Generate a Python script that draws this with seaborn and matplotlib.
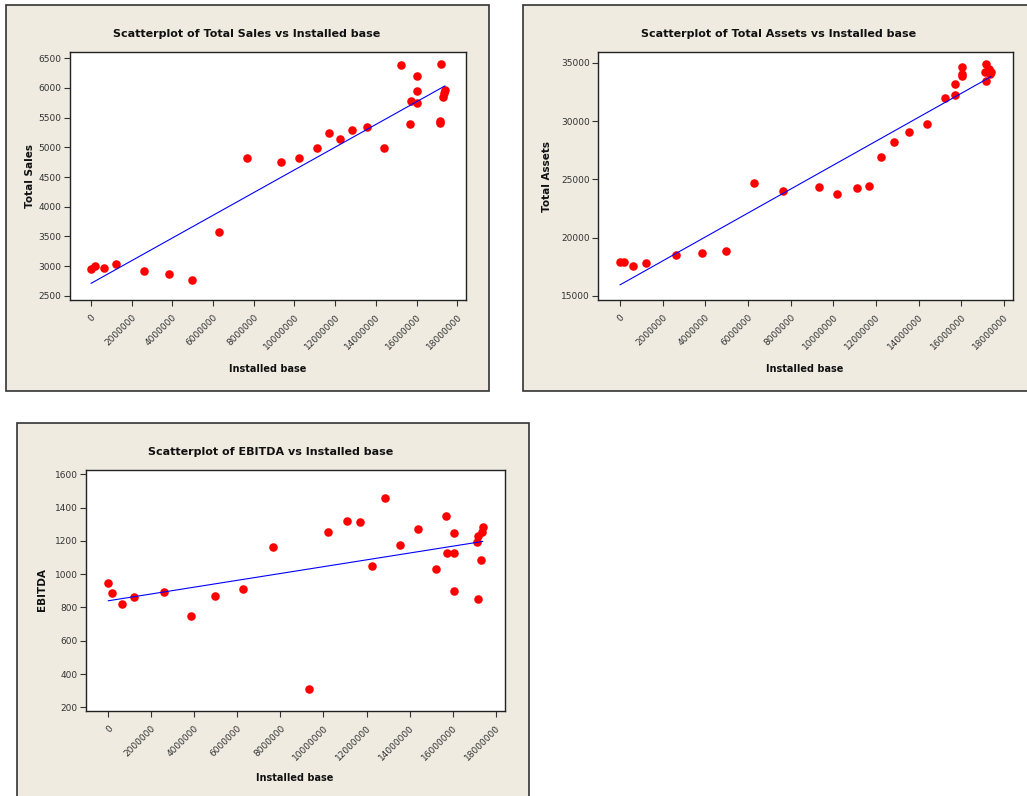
import numpy as np
import pandas as pd
import matplotlib
matplotlib.use("Agg")
import matplotlib.pyplot as plt
from matplotlib.patches import Rectangle
import seaborn as sns

# ---- data ----
installed_base = [0, 180000, 620000, 1220000, 2610000, 3830000, 4970000, 6280000,
                  7650000, 9330000, 10200000, 11100000, 11700000, 12240000, 12850000,
                  13560000, 14380000, 15240000, 15700000, 15720000, 16040000, 16040000,
                  16040000, 17140000, 17160000, 17180000, 17320000, 17360000, 17400000]
total_sales = [2949, 3006, 2972, 3039, 2921, 2871, 2770, 3567, 4826, 4753, 4826, 4994,
               5236, 5146, 5298, 5348, 4994, 6382, 5388, 5775, 6202, 5944, 5742, 5438,
               5416, 6404, 5843, 5910, 5966]
total_assets = [17918, 17918, 17575, 17833, 18519, 18691, 18863, 24671, 24041, 24328,
                23727, 24242, 24413, 26931, 28219, 29077, 29793, 32024, 32282, 33226,
                34628, 34056, 33913, 34199, 33484, 34886, 34456, 34084, 34200]
ebitda = [946, 886, 818, 864, 894, 751, 870, 912, 1165, 308, 1253, 1319, 1313, 1052,
          1456, 1177, 1271, 1034, 1349, 1129, 1249, 1129, 900, 1193, 1229, 852, 1088,
          1255, 1285]

x_ticks = [0, 2000000, 4000000, 6000000, 8000000, 10000000, 12000000, 14000000,
           16000000, 18000000]
sales_ticks = [2500, 3000, 3500, 4000, 4500, 5000, 5500, 6000, 6500]
assets_ticks = [15000, 20000, 25000, 30000, 35000]
ebitda_ticks = [200, 400, 600, 800, 1000, 1200, 1400, 1600]

df = pd.DataFrame({"Installed base": installed_base, "Total Sales": total_sales,
                   "Total Assets": total_assets, "EBITDA": ebitda})

sns.set_style("white")
plt.rcParams['font.family'] = ['DejaVu Sans']

W, H = 1027, 796
fig = plt.figure(figsize=(W / 100, H / 100), dpi=100)
fig.patch.set_facecolor("white")

BG = "#EFEBE1"

def fx(x):
    return x / W

def fy(y):
    return 1 - y / H

def panel_rect(x0, y0, x1, y1):
    r = Rectangle((fx(x0), fy(y1)), fx(x1) - fx(x0), fy(y0) - fy(y1),
                  transform=fig.transFigure, facecolor=BG, edgecolor="#333333",
                  lw=1.2, zorder=-5)
    fig.patches.append(r)

panel_rect(6, 5, 489, 391)
panel_rect(523, 5, 1040, 391)
panel_rect(17, 423, 529, 805)

panels = [
    dict(col="Total Sales", box=(70, 52, 466, 300), ylim=(2428, 6606), yt=sales_ticks,
         title=(247, 34), ylab=(30, 176), xlab=(268, 369)),
    dict(col="Total Assets", box=(598, 52, 1013, 300), ylim=(14631, 35944), yt=assets_ticks,
         title=(779, 34), ylab=(547, 176), xlab=(805, 369)),
    dict(col="EBITDA", box=(86, 470, 505, 711), ylim=(178, 1626), yt=ebitda_ticks,
         title=(271, 452), ylab=(42, 590), xlab=(295, 778)),
]

for p in panels:
    x0, y0, x1, y1 = p["box"]
    ax = fig.add_axes([fx(x0), fy(y1), fx(x1) - fx(x0), fy(y0) - fy(y1)], zorder=2)
    ax.set_facecolor("white")
    sns.regplot(data=df, x="Installed base", y=p["col"], ax=ax, ci=None, truncate=True,
                scatter_kws=dict(color="#FF0000", s=38, linewidths=0, alpha=1),
                line_kws=dict(color="#0000FF", lw=0.8))
    ax.set_xlim(-1030000, 18430000)
    ax.set_ylim(*p["ylim"])
    ax.set_xticks(x_ticks)
    ax.set_xticklabels([str(t) for t in x_ticks], rotation=45, ha="right",
                       rotation_mode="anchor", fontsize=6.5, color="#333333")
    ax.set_yticks(p["yt"])
    ax.set_yticklabels([str(t) for t in p["yt"]], fontsize=6.5, color="#333333")
    ax.tick_params(axis="both", direction="out", length=4, width=0.8, color="#333333",
                   left=True, bottom=True, pad=2)
    ax.tick_params(axis="x", pad=5)
    for s in ax.spines.values():
        s.set_visible(True)
        s.set_color("#222222")
        s.set_linewidth(1.0)
    ax.set_xlabel("")
    ax.set_ylabel("")
    tx, ty = p["title"]
    fig.text(fx(tx), fy(ty), "Scatterplot of %s vs Installed base" % p["col"],
             ha="center", va="center", fontsize=8, fontweight="bold", color="#111111")
    lx, ly = p["ylab"]
    fig.text(fx(lx), fy(ly), p["col"], ha="center", va="center", rotation=90,
             fontsize=7.5, fontweight="bold", color="#111111")
    xx, xy = p["xlab"]
    fig.text(fx(xx), fy(xy), "Installed base", ha="center", va="center",
             fontsize=7, fontweight="bold", color="#111111")

fig.savefig("out.png", dpi=100, facecolor="white")
